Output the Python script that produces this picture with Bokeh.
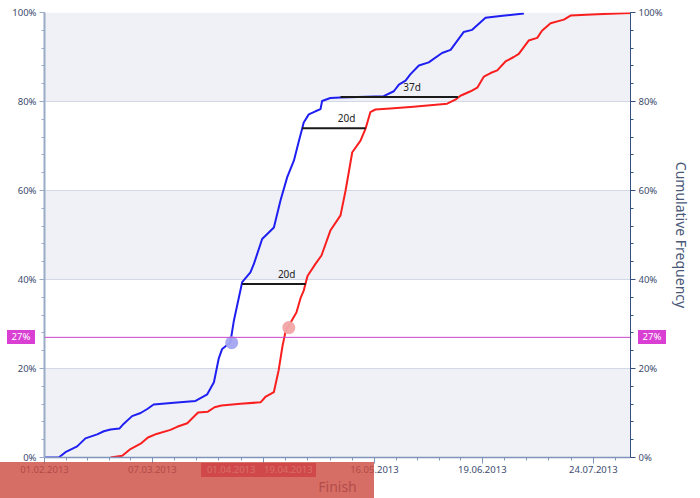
import numpy as np
import pandas as pd
from bokeh.plotting import figure
from bokeh.layouts import column
from bokeh.models import (Range1d, LinearAxis, FixedTicker, PrintfTickFormatter,
                          BoxAnnotation, Span, ColumnDataSource, Div)
from bokeh.embed import file_html
from bokeh.resources import INLINE

START = pd.Timestamp("2013-02-01")
X_END_DAYS = 184.7

# days since 01.02.2013 and cumulative frequency (%)
blue_days = [0, 4.5, 6.6, 10.3, 12.9, 16.6, 18.7, 20.8, 23.6, 25.0, 27.6, 30.3, 32.4, 34.4, 40.8,
             47.6, 48.6, 51.3, 53.4, 54.9, 56.0, 58.6, 59.7, 62.3, 64.9, 66.0, 68.6, 72.3, 74.4,
             76.5, 78.6, 80.1, 81.2, 81.7, 83.3, 85.4, 87.0, 87.5, 90.1, 93.3, 106.9, 110.1,
             111.7, 113.8, 115.3, 118.0, 121.1, 125.3, 128.0, 132.1, 134.8, 139.0, 143.7, 151.1]
blue_pct = [0, 0, 1.2, 2.5, 4.3, 5.2, 5.9, 6.3, 6.5, 7.6, 9.3, 10.0, 10.9, 11.9, 12.3,
            12.7, 13.1, 14.2, 16.9, 22.2, 24.4, 25.9, 30.8, 39.4, 41.6, 43.5, 49.1, 51.7, 57.8,
            63.0, 66.7, 70.9, 73.9, 75.3, 77.1, 77.8, 78.3, 80.1, 80.8, 80.9, 81.2, 82.3,
            83.8, 84.7, 86.1, 88.1, 88.8, 90.9, 91.6, 95.6, 96.1, 98.8, 99.2, 99.8]

red_days = [20.8, 24.5, 27.1, 30.3, 32.6, 35.3, 39.7, 41.8, 45.0, 48.4, 51.5, 53.6, 55.8, 61.8,
            68.1, 69.6, 72.3, 73.8, 75.0, 76.0, 77.8, 79.4, 80.7, 81.7, 82.9, 85.4, 87.3, 90.1,
            93.3, 94.9, 97.0, 99.6, 101.2, 102.7, 104.3, 109.0, 116.3, 126.9, 129.5, 131.1,
            134.3, 136.4, 138.5, 140.6, 142.7, 145.3, 147.9, 149.5, 152.6, 155.3, 156.8, 159.5,
            163.7, 165.8, 174.2, 184.7]
red_pct = [0, 0.4, 1.9, 3.1, 4.5, 5.3, 6.2, 6.9, 7.7, 10.1, 10.3, 11.3, 11.7, 12.1,
           12.4, 13.6, 14.7, 19.6, 25.0, 28.4, 30.6, 32.6, 35.8, 37.5, 40.8, 43.5, 45.4, 51.0,
           54.4, 60.0, 68.6, 71.2, 73.9, 77.6, 78.2, 78.4, 78.8, 79.5, 80.4, 81.3,
           82.3, 83.1, 85.6, 86.4, 87.0, 89.0, 90.0, 90.7, 93.7, 94.3, 95.9, 97.6,
           98.4, 99.3, 99.6, 99.9]

x_tick_dates = ["01.02.2013", "07.03.2013", "11.04.2013", "16.05.2013", "19.06.2013", "24.07.2013"]
hidden_tick_dates = ["11.04.2013"]
highlight_dates = ["01.04.2013", "19.04.2013"]
highlight_values = [25.8, 29.2]
threshold_pct = 27
gap_levels = [39, 74, 81]
gap_start_days = [62.3, 81.2, 93.3]
gap_lengths = [20, 20, 37]
y_ticks = [0, 20, 40, 60, 80, 100]
y_minor_step = 4


def day(s):
    return float((pd.to_datetime(s, format="%d.%m.%Y") - START).days)


TICK_COLOR = "#3c4b6e"
FONT = "Noto Sans"
W, H = 700, 498
BL, BR, BT, BB = 44, 70, 12, 41   # borders -> frame 44..630, 12..457

p = figure(width=W, height=H, output_backend="svg", toolbar_location=None,
           x_range=Range1d(0, X_END_DAYS), y_range=Range1d(0, 100),
           min_border_left=BL, min_border_right=BR, min_border_top=BT, min_border_bottom=BB)
p.outline_line_color = None
p.background_fill_color = "white"
p.border_fill_color = "white"

# alternating bands
for lo in (0, 40, 80):
    p.add_layout(BoxAnnotation(bottom=lo, top=lo + 20, fill_color="#eff1f6",
                               fill_alpha=1, line_alpha=0, level="image"))

y_minor = list(np.arange(0, 100.01, y_minor_step))
yticker = FixedTicker(ticks=y_ticks, minor_ticks=y_minor)
p.ygrid.ticker = yticker
p.ygrid.grid_line_color = "#d3d9e4"
p.xgrid.visible = False

# x ticks
x_ticks = [day(s) for s in x_tick_dates]
x_minor = []
for a, b in zip(x_ticks[:-1], x_ticks[1:]):
    x_minor += list(np.linspace(a, b, 6)[:-1])
v = x_ticks[-1]
while v <= X_END_DAYS + 0.01:
    x_minor.append(v)
    v += (x_ticks[-1] - x_ticks[-2]) / 5
overrides = {t: ("" if s in hidden_tick_dates else s) for t, s in zip(x_ticks, x_tick_dates)}

xa = p.xaxis[0]
xa.ticker = FixedTicker(ticks=x_ticks, minor_ticks=x_minor)
xa.major_label_overrides = overrides
xa.axis_line_color = "#7f95ba"
xa.axis_line_width = 1.5
xa.major_tick_line_color = "#7f95ba"
xa.minor_tick_line_color = "#7f95ba"
xa.major_tick_out = 6
xa.major_tick_in = 0
xa.minor_tick_out = 3
xa.minor_tick_in = 0
xa.major_label_text_font = FONT
xa.major_label_text_font_size = "9.5px"
xa.major_label_text_color = TICK_COLOR
xa.major_label_standoff = 2
xa.axis_label = "Finish"
xa.axis_label_text_font = FONT
xa.axis_label_text_font_size = "14px"
xa.axis_label_text_font_style = "normal"
xa.axis_label_text_color = "#4a5878"
xa.axis_label_standoff = 1


def style_y(ax, line_color, width):
    ax.ticker = yticker
    ax.formatter = PrintfTickFormatter(format="%d%%")
    ax.axis_line_color = line_color
    ax.axis_line_width = width
    ax.major_tick_line_color = line_color
    ax.minor_tick_line_color = line_color
    ax.major_tick_out = 5
    ax.major_tick_in = 0
    ax.minor_tick_out = 3
    ax.minor_tick_in = 0
    ax.major_label_text_font = FONT
    ax.major_label_text_font_size = "9.5px"
    ax.major_label_text_color = TICK_COLOR
    ax.major_label_standoff = 3


style_y(p.yaxis[0], "#9aabc8", 2)
ra = LinearAxis()
style_y(ra, "#35507e", 1)
ra.axis_label = "Cumulative Frequency"
ra.axis_label_text_font = FONT
ra.axis_label_text_font_size = "14px"
ra.axis_label_text_font_style = "normal"
ra.axis_label_text_color = "#4a5878"
ra.axis_label_standoff = 6
p.add_layout(ra, "right")

# curves
p.line(blue_days, blue_pct, line_color="#1f1ff2", line_width=2, line_join="round")
p.line(red_days, red_pct, line_color="#fa1f1f", line_width=2, line_join="round")

# threshold line
p.add_layout(Span(location=threshold_pct, dimension="width", line_color="#c846c8", line_width=1))

# markers
hl_days = [day(s) for s in highlight_dates]
p.scatter(hl_days, highlight_values, size=13, fill_color=["#a3a6f0", "#f2a5a5"],
          fill_alpha=0.95, line_color=None)

# gap lines
gx1 = [s + l for s, l in zip(gap_start_days, gap_lengths)]
p.segment(x0=gap_start_days, y0=gap_levels, x1=gx1, y1=gap_levels, line_color="#1a1a1a", line_width=2)
src = ColumnDataSource(dict(x=[s + l / 2 for s, l in zip(gap_start_days, gap_lengths)],
                            y=gap_levels, t=[f"{l}d" for l in gap_lengths]))
p.text(x="x", y="y", text="t", source=src, text_align="left", text_baseline="bottom",
       x_offset=4, y_offset=-3, text_font_size="10px", text_color="#222222",
       text_font={"value": FONT})

# ---- HTML overlay for the elements outside the plot frame ----
FW = W - BL - BR
FH = H - BT - BB


def px_x(d):
    return BL + d / X_END_DAYS * FW


def px_y(v):
    return BT + (100 - v) / 100 * FH


def box(left, top, w, h, bg, text="", color="white"):
    return (f'<div style="position:absolute;left:{left:.1f}px;top:{top:.1f}px;width:{w:.1f}px;'
            f'height:{h:.1f}px;background:{bg};color:{color};font-family:\'{FONT}\';font-size:9.5px;'
            f'line-height:{h:.1f}px;text-align:center;white-space:nowrap;">{text}</div>')


ty = px_y(threshold_pct)
parts = [
    box(7, ty - 7, 28, 14, "#d93fd3", f"{threshold_pct}%"),
    box(BL + FW + 8, ty - 7, 28, 14, "#d93fd3", f"{threshold_pct}%"),
]
hx = [px_x(d) for d in hl_days]
parts.append(box(hx[0] - 30, H - BB + 6, hx[-1] - hx[0] + 58, 14, "#e0407a"))
for x, s in zip(hx, highlight_dates):
    parts.append(box(x - 27, H - BB + 6, 54, 14, "transparent", s, "white"))
# semi-transparent coral overlay over the lower-left corner
parts.append(box(0, H - BB + 5, px_x(day("16.05.2013")), BB - 5, "rgba(204,74,62,0.80)"))

overlay = Div(text="".join(parts),
              styles={"position": "absolute", "left": "0px", "top": "0px", "width": f"{W}px",
                      "height": f"{H}px", "pointer-events": "none", "z-index": "10",
                      "margin": "0px", "padding": "0px"})

layout = column(p, overlay, spacing=0)
open("out.html", "w").write(file_html(layout, INLINE))
